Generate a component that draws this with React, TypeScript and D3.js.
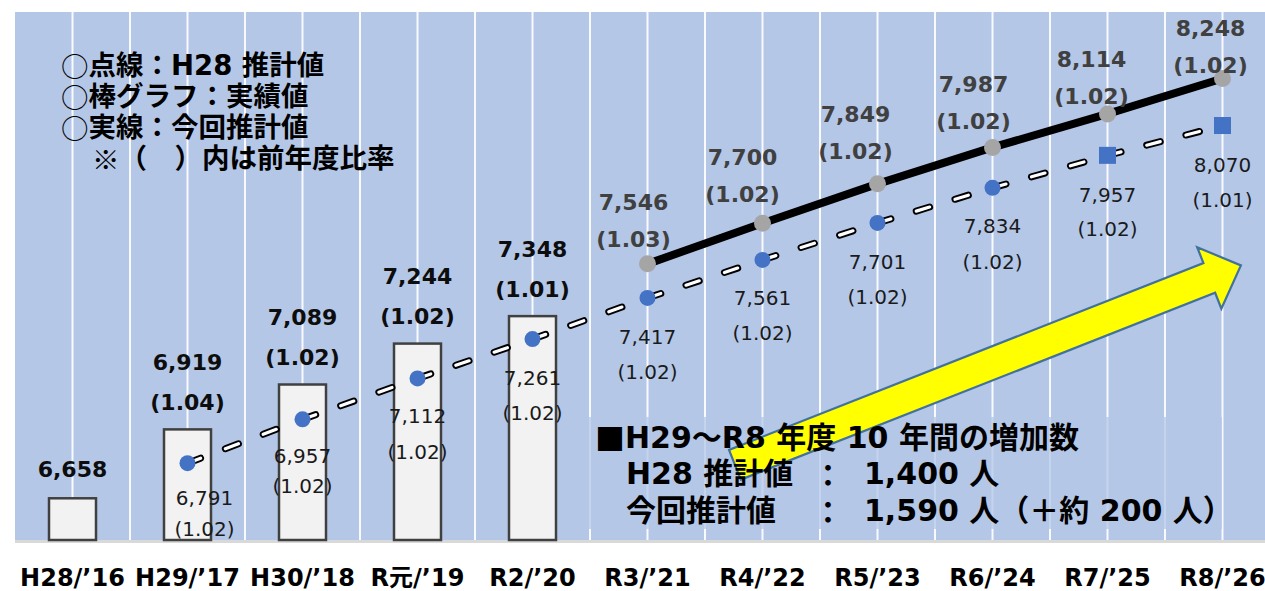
import React from "react";
import * as d3 from "d3";

// fiscal years (Japanese era / western)
const categories = [
  "H28/’16", "H29/’17", "H30/’18", "R元/’19", "R2/’20", "R3/’21",
  "R4/’22", "R5/’23", "R6/’24", "R7/’25", "R8/’26",
];

// bars: actual values
const actualCats = ["H28/’16", "H29/’17", "H30/’18", "R元/’19", "R2/’20"];
const actualValues = [6658, 6919, 7089, 7244, 7348];
const actualRatios = ["", "(1.04)", "(1.02)", "(1.02)", "(1.01)"];

// dashed line: H28 estimate
const h28Cats = ["H29/’17", "H30/’18", "R元/’19", "R2/’20", "R3/’21", "R4/’22", "R5/’23", "R6/’24", "R7/’25", "R8/’26"];
const h28Values = [6791, 6957, 7112, 7261, 7417, 7561, 7701, 7834, 7957, 8070];
const h28Ratios = ["(1.02)", "(1.02)", "(1.02)", "(1.02)", "(1.02)", "(1.02)", "(1.02)", "(1.02)", "(1.02)", "(1.01)"];
const h28Markers = ["circle", "circle", "circle", "circle", "circle", "circle", "circle", "circle", "square", "square"];

// solid line: current estimate
const currentCats = ["R3/’21", "R4/’22", "R5/’23", "R6/’24", "R7/’25", "R8/’26"];
const currentValues = [7546, 7700, 7849, 7987, 8114, 8248];
const currentRatios = ["(1.03)", "(1.02)", "(1.02)", "(1.02)", "(1.02)", "(1.02)"];

const yDomain = [6500, 8500];

const legendLines = ["○点線：H28 推計値", "○棒グラフ：実績値", "○実線：今回推計値", "※（　）内は前年度比率"];

const noteTitle = "H29～R8 年度 10 年間の増加数";
const noteLabels = ["H28 推計値", "今回推計値"];
const noteValues = ["1,400 人", "1,590 人（＋約 200 人）"];

// arrow annotation, in (band index, value) units
const arrowFrom = [6.26, 6785];
const arrowTo = [10.66, 7540];

// hand-placed label nudges (px), like the moved labels of the original
const curLabelDx = [-14, -20, -22, -19, -16, -12];
const curLabelDy = [-61, -66, -69, -63, -54, -50];
const h28LabelDy = [35, 37, 38, 39, 39, 38, 39, 38, 40, 39];
const h28RatioDy = [66, 67, 74, 74, 74, 73, 74, 74, 74, 74];

const W = 1265;
const H = 591;
const plotLeft = 15;
const plotRight = 1280;
const plotTop = 12;
const plotBottom = 540;

const FONT = "'DejaVu Sans', 'Noto Sans CJK JP', sans-serif";
const CJK = "'Noto Sans CJK JP', sans-serif";
const BG = "#b4c7e7";
const BLUE = "#4472c4";

const fmt = d3.format(",");

const Symbolic = ({ text }: { text: string }) => {
  // draw the ○ ※ marks with the CJK font
  const parts = text.split(/([○※])/).filter((s) => s.length);
  return (
    <>
      {parts.map((p, i) =>
        p === "○" || p === "※" ? (
          <tspan key={i} fontFamily={CJK} fontWeight={p === "○" ? 400 : 700}>
            {p}
          </tspan>
        ) : (
          <tspan key={i}>{p}</tspan>
        )
      )}
    </>
  );
};

export default function App() {
  const x = d3.scaleBand().domain(categories).range([plotLeft, plotRight]);
  const bw = x.bandwidth();
  const cx = (c: string) => (x(c) as number) + bw / 2;
  const xi = d3.scaleLinear().domain([0, categories.length]).range([plotLeft, plotRight]);
  const y = d3.scaleLinear().domain(yDomain).range([plotBottom, plotTop]);

  const grid = categories
    .flatMap((c) => [x(c) as number, cx(c)])
    .filter((p) => p > plotLeft + 1 && p < W);

  const barW = 47;

  const h28Pts = h28Cats.map((c, i) => [cx(c), y(h28Values[i])] as [number, number]);
  const curPts = currentCats.map((c, i) => [cx(c), y(currentValues[i])] as [number, number]);
  const line = d3.line();

  // arrow polygon
  const ax0 = xi(arrowFrom[0]);
  const ay0 = y(arrowFrom[1]);
  const ax1 = xi(arrowTo[0]);
  const ay1 = y(arrowTo[1]);
  const len = Math.hypot(ax1 - ax0, ay1 - ay0);
  const ux = (ax1 - ax0) / len;
  const uy = (ay1 - ay0) / len;
  const nx = -uy;
  const ny = ux;
  const sw = 16;
  const hw = 33;
  const hl = 34;
  const bx = ax1 - ux * hl;
  const by = ay1 - uy * hl;
  const arrowPts = [
    [ax0 + nx * sw, ay0 + ny * sw],
    [bx + nx * sw, by + ny * sw],
    [bx + nx * hw, by + ny * hw],
    [ax1, ay1],
    [bx - nx * hw, by - ny * hw],
    [bx - nx * sw, by - ny * sw],
    [ax0 - nx * sw, ay0 - ny * sw],
  ];

  return (
    <svg
      width={W}
      height={H}
      style={{ position: "absolute", left: 0, top: 0, display: "block", background: "#fff" }}
      fontFamily={FONT}
    >
      <rect x={plotLeft} y={plotTop} width={W - plotLeft} height={plotBottom - plotTop} fill={BG} />
      {grid.map((p, i) => (
        <line key={i} x1={p} x2={p} y1={plotTop} y2={plotBottom} stroke="#fff" strokeWidth={2} strokeOpacity={0.9} />
      ))}
      <line x1={plotLeft} x2={W} y1={plotBottom + 1.5} y2={plotBottom + 1.5} stroke="#d9d9d9" strokeWidth={3} />

      {/* bars */}
      {actualCats.map((c, i) => (
        <rect
          key={c}
          x={cx(c) - barW / 2}
          y={y(actualValues[i])}
          width={barW}
          height={plotBottom - y(actualValues[i])}
          fill="#f2f2f2"
          stroke="#404040"
          strokeWidth={2.5}
        />
      ))}

      {/* note box */}
      <rect x={583} y={417} width={639} height={112} fill={BG} fillOpacity={0.75} />

      <polygon
        points={arrowPts.map((p) => p.join(",")).join(" ")}
        fill="#ffff00"
        stroke="#41719c"
        strokeWidth={2.2}
        strokeLinejoin="miter"
      />

      {/* dashed H28 estimate, drawn segment by segment */}
      {h28Pts.slice(1).map((p, i) => {
        const d = line([h28Pts[i], p]) as string;
        return (
          <g key={i}>
            <path d={d} fill="none" stroke="#000" strokeWidth={7} strokeDasharray="14 26.5" strokeLinecap="round" />
            <path d={d} fill="none" stroke="#fff" strokeWidth={3.2} strokeDasharray="14 26.5" strokeLinecap="round" />
          </g>
        );
      })}

      {/* solid current estimate */}
      <path d={line(curPts) as string} fill="none" stroke="#000" strokeWidth={8} strokeLinejoin="round" />

      {h28Pts.map((p, i) =>
        h28Markers[i] === "square" ? (
          <rect key={i} x={p[0] - 8.5} y={p[1] - 8.5} width={17} height={17} fill={BLUE} />
        ) : (
          <circle key={i} cx={p[0]} cy={p[1]} r={8} fill={BLUE} />
        )
      )}
      {curPts.map((p, i) => (
        <circle key={i} cx={p[0]} cy={p[1]} r={8.5} fill="#a5a5a5" />
      ))}

      {/* bar labels */}
      {actualCats.map((c, i) => {
        const top = y(actualValues[i]);
        const hasRatio = actualRatios[i] !== "";
        return (
          <g key={c} fontWeight={700} fontSize={22} fill="#0d0d0d" textAnchor="middle" dominantBaseline="central">
            <text x={cx(c)} y={hasRatio ? top - 67 : top - 29}>{fmt(actualValues[i])}</text>
            {hasRatio && <text x={cx(c)} y={top - 27}>{actualRatios[i]}</text>}
          </g>
        );
      })}

      {/* current estimate labels */}
      {curPts.map((p, i) => (
        <g key={i} fontWeight={700} fontSize={22} fill="#404040" textAnchor="middle" dominantBaseline="central">
          <text x={p[0] + curLabelDx[i]} y={p[1] + curLabelDy[i]}>{fmt(currentValues[i])}</text>
          <text x={p[0] + curLabelDx[i]} y={p[1] + curLabelDy[i] + 37}>{currentRatios[i]}</text>
        </g>
      ))}

      {/* H28 estimate labels */}
      {h28Pts.map((p, i) => {
        const dx = i === 0 ? 17 : 0;
        return (
          <g key={i} fontSize={20} fill="#1a1a1a" textAnchor="middle" dominantBaseline="central">
            <text x={p[0] + dx} y={p[1] + h28LabelDy[i]}>{fmt(h28Values[i])}</text>
            <text x={p[0] + dx} y={p[1] + h28RatioDy[i]}>{h28Ratios[i]}</text>
          </g>
        );
      })}

      {/* x axis labels */}
      {categories.map((c) => (
        <text
          key={c}
          x={cx(c)}
          y={578}
          textAnchor="middle"
          dominantBaseline="central"
          fontWeight={700}
          fontSize={24}
          fill="#000"
        >
          {c}
        </text>
      ))}

      {/* legend */}
      <g fontWeight={700} fontSize={27.5} fill="#000" dominantBaseline="central">
        {legendLines.map((t, i) => (
          <text key={i} x={i === 3 ? 92 : 61} y={65 + i * 31}>
            <Symbolic text={t} />
          </text>
        ))}
      </g>

      {/* note */}
      <g fontWeight={700} fontSize={30} fill="#000" dominantBaseline="central">
        <text x={595} y={437}>
          <tspan fontFamily={CJK}>■</tspan>
          <tspan>{noteTitle}</tspan>
        </text>
        {noteLabels.map((t, i) => (
          <g key={i}>
            <text x={626} y={473 + i * 37}>{t}</text>
            <text x={813} y={473 + i * 37} fontFamily={CJK}>：</text>
            <text x={864} y={473 + i * 37}>{noteValues[i]}</text>
          </g>
        ))}
      </g>
    </svg>
  );
}
